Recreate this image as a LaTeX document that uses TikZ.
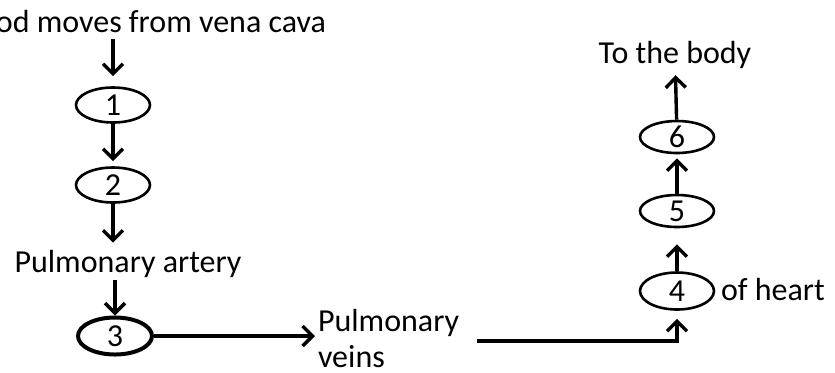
\documentclass[tikz,border=0pt]{standalone}
\usepackage{fontspec}
\setmainfont{Carlito}
\usetikzlibrary{arrows.meta,positioning,shapes.geometric,calc}

\begin{document}
\begin{tikzpicture}[x=0.5pt,y=-0.5pt,
  font=\fontsize{16}{18}\selectfont,
  oval/.style={draw, ellipse, line width=1.3pt, minimum width=37pt, minimum height=17.5pt, inner sep=0pt},
  flow/.style={line width=1.7pt, -{Straight Barb[length=5pt,width=10pt,line width=1.7pt]}}]
  \clip (0,0) rectangle (835,372);
  \node[anchor=base east] (topTxt) at (333,32) {Blood moves from vena cava};
  \node[oval] (c1) at (113,105) {1};
  \node[oval] (c2) at (113,185) {2};
  \node[anchor=base] (arteryTxt) at (128,272) {Pulmonary artery};
  \node[oval, line width=2pt, minimum height=18.5pt] (c3) at (115,336) {3};
  \node[anchor=west, align=left] (veinsTxt) at (311,338) {Pulmonary\\veins};
  \node[oval, minimum height=18.5pt] (c4) at (677,291) {4};
  \node[anchor=base west] (heartTxt) at (714,300) {of heart};
  \node[oval, minimum height=16pt] (c5) at (677,211) {5};
  \node[oval, minimum height=16pt] (c6) at (677,137) {6};
  \node[anchor=base] (bodyTxt) at (675,63) {To the body};

  \draw[flow, shorten >=5pt] (c1 |- topTxt.south) -- (c1.north);
  \draw[flow, shorten >=2.5pt] (c1) -- (c2);
  \draw[flow] (c2) -- (c2 |- arteryTxt.north);
  \draw[flow] ([yshift=-4pt]c3 |- arteryTxt.base) -- (c3);
  \draw[flow] (c3) -- ([xshift=2pt]veinsTxt.west |- c3);
  \draw[flow, shorten >=4pt] ([xshift=5.5pt,yshift=-1.5pt]veinsTxt.east) -| (c4);
  \draw[flow, shorten >=8pt] (c4) -- (c5);
  \draw[flow, shorten >=2pt] (c5) -- (c6);
  \draw[flow] (c6) -- (bodyTxt);
\end{tikzpicture}
\end{document}
